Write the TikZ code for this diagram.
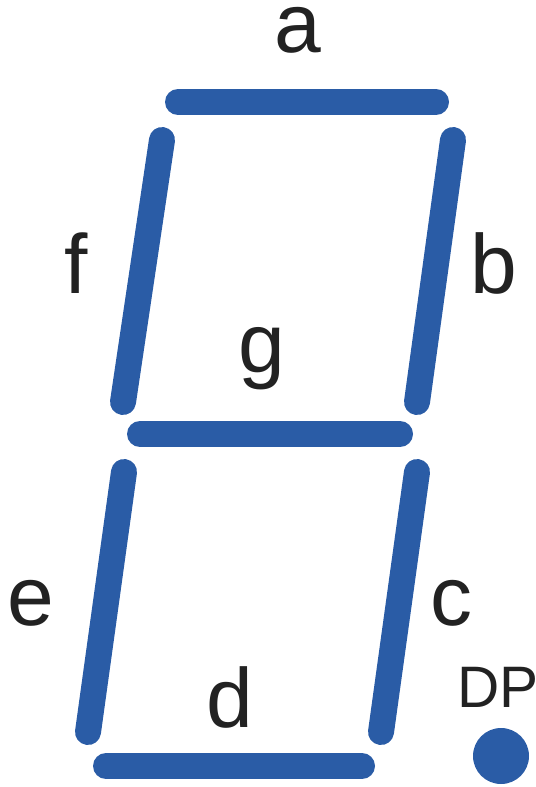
\documentclass[tikz,border=0pt]{standalone}
\usepackage{fontspec}
\setmainfont{Liberation Sans}
\definecolor{SegBlue}{HTML}{2A5CA6}
\definecolor{LabelDark}{HTML}{222222}

\begin{document}
\begin{tikzpicture}[x=0.02cm, y=-0.02cm,
        seg/.style={line width=26*0.02cm, line cap=round, draw=SegBlue},
        lbl/.style={anchor=base, inner sep=0pt, text=LabelDark, font=\fontsize{47.8}{50}\selectfont},
        dplbl/.style={lbl, font=\fontsize{33.3}{36}\selectfont}]

        \useasboundingbox (0,0) rectangle (536,787);

        % segment end points
        \coordinate (a1) at (178,102);  \coordinate (a2) at (436,102);
        \coordinate (b1) at (453,140);  \coordinate (b2) at (417,402);
        \coordinate (c1) at (417,472);  \coordinate (c2) at (381,732);
        \coordinate (d1) at (106,766);  \coordinate (d2) at (362,766);
        \coordinate (e1) at (124,472);  \coordinate (e2) at (88,732);
        \coordinate (f1) at (162,140);  \coordinate (f2) at (123,402);
        \coordinate (g1) at (140,434);  \coordinate (g2) at (400,434);

        \draw[seg] (a1) -- (a2);
        \draw[seg] (b1) -- (b2);
        \draw[seg] (c1) -- (c2);
        \draw[seg] (d1) -- (d2);
        \draw[seg] (e1) -- (e2);
        \draw[seg] (f1) -- (f2);
        \draw[seg] (g1) -- (g2);

        \fill[SegBlue] (501,756) circle (28);

        % labels
        \node[lbl, text height=0.55em] (la) at (298,53) {a};
        \node[lbl] (lb) at (494,293) {b};
        \node[lbl] (lc) at (451,625) {c};
        \node[lbl] (ld) at (230,727) {d};
        \node[lbl] (le) at (31,625) {e};
        \node[lbl] (lf) at (76,293) {f};
        \node[lbl] (lg) at (262,372) {g};
        \node[dplbl] (ldp) at (498,707) {DP};
    \end{tikzpicture}
\end{document}
